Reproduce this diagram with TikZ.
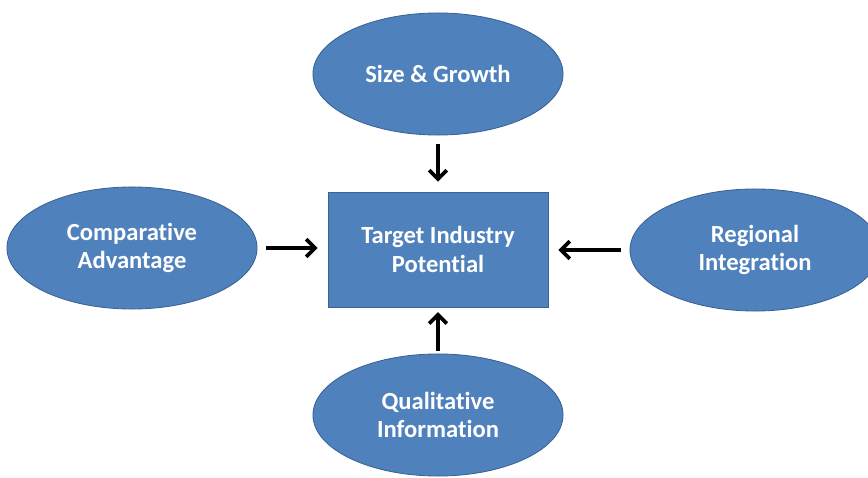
\documentclass[tikz,border=0pt]{standalone}
\usepackage{fontspec}
\setmainfont{Carlito}[Ligatures=NoCommon]
\usetikzlibrary{shapes.geometric,arrows.meta}
\definecolor{ovalblue}{HTML}{4F81BD}
\definecolor{ovalline}{HTML}{3A6395}
\tikzset{
	factor/.style={ellipse, draw=ovalline, fill=ovalblue, line width=0.6pt, minimum width=6.25cm, minimum height=3.05cm, inner sep=0pt, align=center, text=white, font=\bfseries\fontsize{17.5}{20}\selectfont},
	target/.style={rectangle, draw=ovalline, fill=ovalblue, line width=0.6pt, minimum width=5.5cm, minimum height=2.875cm, align=center, text=white, font=\bfseries\fontsize{17.5}{20}\selectfont},
	feed/.style={-{Straight Barb[length=2.2mm,width=4.4mm]}, line width=2.6pt, shorten <=0.22cm, shorten >=0.25cm}
}

\begin{document}
\begin{tikzpicture}[x=0.025cm, y=-0.025cm]
			%%%%% START %%%%%
			\fill[white] (0, 0) rectangle (868, 478);
			\clip (0, 0) rectangle (868, 478);
			
			\node[target] (potential) at (438, 249.5) {Target Industry\\Potential};
			
			\node[factor] (size) at (438, 74) {Size \& Growth};
			\node[factor] (compare) at (132, 248) {Comparative\\Advantage};
			\node[factor] (region) at (755, 250) {Regional\\Integration};
			\node[factor] (quality) at (438, 415) {Qualitative\\Information};
			
			\draw[feed] (size) -- (potential);
			\draw[feed] (compare.east) -- (compare.east -| potential.west);
			\draw[feed] (region.west) -- (region.west -| potential.east);
			\draw[feed, shorten <=0.06cm, shorten >=0.12cm] (quality) -- (potential);
			%%%%% END %%%%%
\end{tikzpicture}
\end{document}
